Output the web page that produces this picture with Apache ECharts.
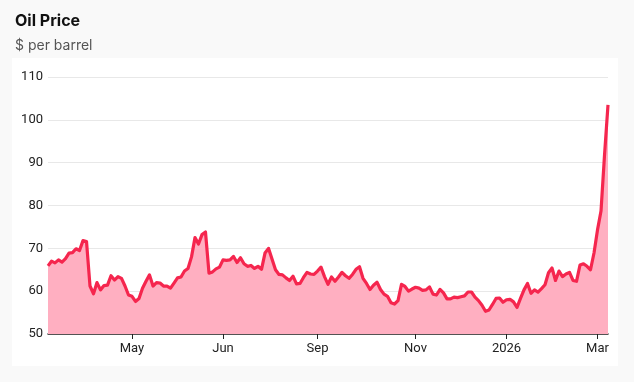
<!DOCTYPE html>
<html>
<head>
<meta charset="utf-8">
<script src="https://cdn.jsdelivr.net/npm/echarts@6/dist/echarts.min.js"></script>
<style>
html,body{margin:0;padding:0;background:#f9f9f9;}
#chart{width:634px;height:382px;}
</style>
</head>
<body>
<div id="chart"></div>
<script>
const titleText = 'Oil Price';
const subtitleText = '$ per barrel';
const tickLabels = ['May', 'Jun', 'Sep', 'Nov', '2026', 'Mar'];
const tickIndex = [24, 50, 77, 105, 131, 157];
const yTicks = [50, 60, 70, 80, 90, 100, 110];
const prices = [
  65.9, 67.0, 66.6, 67.3, 66.8, 67.6, 68.9, 69.0, 69.9, 69.5,
  71.8, 71.6, 61.2, 59.4, 62.0, 60.3, 61.3, 61.4, 63.6, 62.6,
  63.4, 63.0, 61.2, 59.1, 58.8, 57.6, 58.3, 60.7, 62.3, 63.8,
  61.2, 62.0, 61.9, 61.2, 61.2, 60.7, 61.9, 63.1, 63.3, 64.7,
  65.3, 68.0, 72.5, 71.0, 73.2, 73.8, 64.2, 64.5, 65.2, 65.6,
  67.3, 67.2, 67.3, 68.1, 66.7, 67.8, 66.4, 65.8, 66.0, 65.3,
  65.8, 65.1, 68.9, 70.0, 67.5, 65.0, 63.9, 63.8, 63.1, 62.5,
  63.5, 61.7, 61.8, 63.2, 64.4, 64.0, 63.9, 64.7, 65.6, 63.4,
  61.6, 63.3, 62.3, 63.3, 64.4, 63.6, 63.0, 63.9, 65.1, 65.7,
  63.0, 61.8, 60.4, 61.4, 62.1, 60.4, 59.3, 58.8, 57.3, 57.0,
  57.8, 61.6, 61.1, 60.0, 60.5, 60.9, 60.7, 60.2, 60.3, 61.0,
  59.3, 59.1, 60.4, 59.6, 58.2, 58.2, 58.6, 58.5, 58.7, 58.9,
  59.8, 59.8, 58.6, 57.8, 56.7, 55.3, 55.6, 56.9, 58.3, 58.4,
  57.4, 58.0, 58.1, 57.5, 56.2, 58.3, 60.3, 61.8, 59.5, 60.3,
  59.8, 60.6, 61.5, 64.3, 65.4, 62.5, 64.7, 63.4, 64.0, 64.4,
  62.5, 62.3, 66.1, 66.4, 65.8, 65.0, 68.9, 74.3, 78.7, 91.7,
  103.5
];
const categories = prices.map((_, i) => 'd' + i);

const chart = echarts.init(document.getElementById('chart'), null, {renderer: 'canvas'});
const isTick = (i) => tickIndex.indexOf(i) >= 0;
chart.setOption({
  backgroundColor: '#f9f9f9',
  animation: false,
  graphic: [{
    type: 'rect', z: -10, silent: true,
    shape: {x: 12, y: 58, width: 606, height: 308},
    style: {fill: '#ffffff'}
  }],
  title: {
    text: titleText,
    subtext: subtitleText,
    left: 10,
    top: 8,
    itemGap: 10,
    textStyle: {fontFamily: 'Inter', fontSize: 16, fontWeight: 'bold', color: '#111'},
    subtextStyle: {fontFamily: 'Inter', fontSize: 14, color: '#555'}
  },
  grid: {left: 48, right: 26, top: 77, bottom: 48},
  xAxis: {
    type: 'category',
    data: categories,
    boundaryGap: false,
    axisLine: {lineStyle: {color: '#222', width: 1.5}},
    axisTick: {show: true, length: 5, interval: (i) => isTick(i), lineStyle: {color: '#222', width: 1}},
    axisLabel: {
      interval: (i) => isTick(i),
      formatter: (v, i) => { const k = tickIndex.indexOf(i); return k >= 0 ? tickLabels[k] : ''; },
      color: '#222', fontFamily: 'Roboto', fontSize: 13, margin: 8
    },
    splitLine: {show: false}
  },
  yAxis: {
    type: 'value',
    min: yTicks[0],
    max: yTicks[yTicks.length - 1],
    interval: 10,
    axisLine: {show: false},
    axisTick: {show: false},
    axisLabel: {color: '#222', fontFamily: 'Roboto', fontSize: 13, margin: 5},
    splitLine: {lineStyle: {color: '#e8e8e8', width: 1}}
  },
  series: [{
    type: 'line',
    data: prices,
    symbol: 'none',
    smooth: false,
    lineStyle: {color: '#f5264e', width: 3.2, join: 'round'},
    areaStyle: {color: '#ffafc1', opacity: 1, origin: 'start'}
  }]
});
</script>
</body>
</html>
